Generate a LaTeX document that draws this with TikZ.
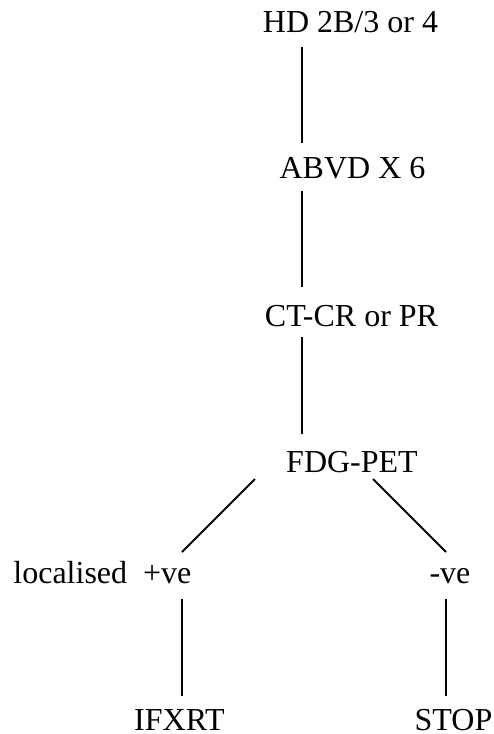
\documentclass[tikz,border=0pt]{standalone}
\usepackage{fontspec}
\setmainfont{Liberation Serif}
\usetikzlibrary{calc}
\begin{document}
\begin{tikzpicture}[x=0.5pt,y=-0.5pt,
  lbl/.style={inner sep=0pt,anchor=base,font=\fontsize{16}{19}\selectfont},
  link/.style={line width=1pt}]
\useasboundingbox (0,0) rectangle (493,734);
% treatment steps
\node[lbl] (hd)   at (350.5,32)  {HD 2B/3 or 4};
\node[lbl] (abvd) at (352.5,178) {ABVD X 6};
\node[lbl] (ct)   at (351.5,326) {CT-CR or PR};
\node[lbl] (pet)  at (352,472)   {FDG-PET};
\node[lbl,anchor=base west] (pos) at (13,583) {localised \ +ve};
\node[lbl] (neg)  at (450,583)   {-ve};
\node[lbl] (rt)   at (179.5,730) {IFXRT};
\node[lbl] (stop) at (453.5,730) {STOP};
% connectors
\draw[link] ($(hd.base)+(-48.5,15)$)   -- ($(abvd.base)+(-50.5,-35)$);
\draw[link] ($(abvd.base)+(-50.5,13)$) -- ($(ct.base)+(-49.5,-39)$);
\draw[link] ($(ct.base)+(-49.5,11)$)   -- ($(pet.base)+(-50,-38)$);
\draw[link] ($(pet.base)+(-97,7)$)     -- ($(rt.base |- pos.base)+(2.5,-31)$);
\draw[link] ($(pet.base)+(21,7)$)      -- ($(neg.base)+(-4,-31)$);
\draw[link] ($(rt.base |- pos.base)+(2.5,16)$) -- ($(rt.base)+(2.5,-34)$);
\draw[link] ($(neg.base)+(-4,16)$)     -- ($(stop.base)+(-7.5,-34)$);
\end{tikzpicture}
\end{document}
